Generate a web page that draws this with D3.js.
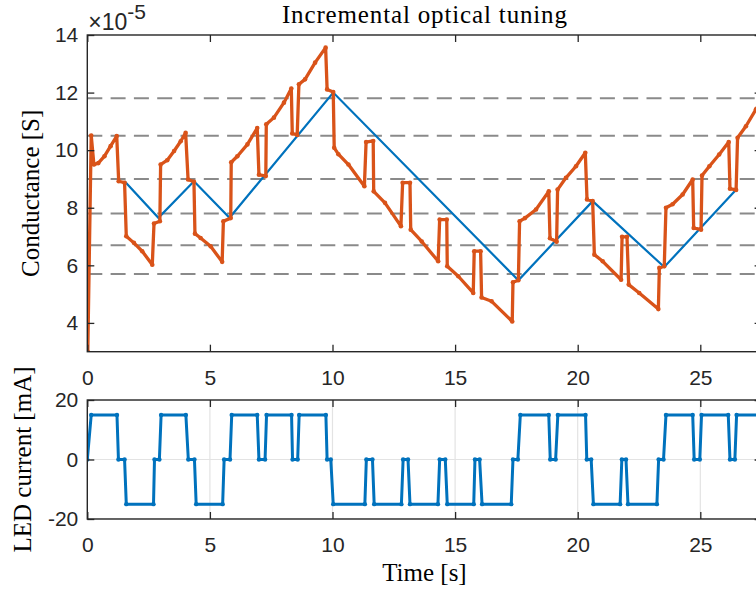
<!DOCTYPE html>
<html>
<head>
  <meta charset="UTF-8">
  <title>Incremental optical tuning</title>
  <style>
    body { margin: 0; background: #fff; }
    svg { display: block; }
    .latex { font-family: "Liberation Serif", "Times New Roman", serif; fill: #000; }
  </style>
</head>
<body>
<svg></svg>
<script src="https://d3js.org/d3.v7.min.js"></script>
<script>
    let width = 756, height = 590;

    // measured conductance, in units of 1e-5 S
    var condTime = [0.02, 0.16, 0.27, 0.45, 0.7, 0.95, 1.2, 1.28, 1.52, 1.59, 1.9, 2.24, 2.65, 2.72, 2.96,
        2.99, 3.26, 3.54, 3.81, 4.01, 4.11, 4.35, 4.39, 4.62, 5.03, 5.5, 5.55, 5.85, 5.87, 6.12, 6.53,
        6.93, 7.0, 7.28, 7.3, 7.61, 8.02, 8.32, 8.36, 8.56, 8.63, 8.88, 9.29, 9.72, 9.78, 10.03, 10.07,
        10.24, 10.65, 11.3, 11.37, 11.66, 11.68, 12.14, 12.79, 12.86, 13.16, 13.19, 13.64, 14.31, 14.37,
        14.66, 14.68, 15.13, 15.74, 15.78, 16.04, 16.08, 16.49, 17.33, 17.36, 17.58, 17.63, 17.85, 18.3,
        18.82, 18.87, 19.14, 19.18, 19.52, 19.93, 20.31, 20.38, 20.61, 20.68, 21.02, 21.77, 21.81, 22.01,
        22.08, 22.51, 23.29, 23.33, 23.53, 23.6, 23.87, 24.28, 24.69, 24.73, 25.03, 25.07, 25.37, 25.77,
        26.16, 26.21, 26.46, 26.52, 26.86, 27.27, 27.6];
    var condValue = [3.0, 10.51, 9.5, 9.55, 9.79, 10.14, 10.49, 8.92, 8.87, 7.01, 6.78, 6.49, 6.02, 7.45, 7.53,
        9.5, 9.65, 9.97, 10.31, 10.6, 8.98, 8.9, 7.1, 6.95, 6.66, 6.12, 7.53, 7.64, 9.58, 9.79, 10.2,
        10.77, 9.15, 9.1, 10.9, 11.13, 11.65, 12.14, 10.58, 10.53, 12.29, 12.46, 13.04, 13.56, 12.11, 12.02, 10.08,
        9.86, 9.5, 8.75, 10.28, 10.32, 8.57, 8.17, 7.36, 8.87, 8.87, 7.24, 6.83, 6.14, 7.59,
        7.59, 5.97, 5.62, 5.04, 6.49, 6.49, 4.88, 4.75, 4.05, 5.41, 5.48, 7.53, 7.64, 7.94,
        8.57, 6.94, 6.82, 8.63, 9.04, 9.44, 9.91, 8.29, 8.23, 6.37, 6.14, 5.5, 6.99, 6.99,
        5.33, 5.04, 4.48, 5.91, 5.97, 8.0, 8.12, 8.46, 8.98, 7.3, 7.24, 9.12, 9.44, 9.85,
        10.28, 8.66, 8.62, 10.43, 10.83, 11.42, 11.9];

    // target conductance path
    var refTime = [1.52, 2.9, 4.35, 5.8, 10.03, 17.58, 20.61, 23.53, 26.43];
    var refValue = [8.92, 7.65, 8.92, 7.65, 12.0, 5.48, 8.23, 5.94, 8.6];

    // conductance levels (dashed)
    var levels = [11.8, 10.5, 9.0, 7.8, 6.7, 5.7];

    // LED current in mA
    var ledTime = [0, 0.16, 1.21, 1.27, 1.52, 1.59, 2.7, 2.74, 2.94, 3.01, 4.02, 4.12, 4.37, 4.44, 5.52,
        5.58, 5.82, 5.89, 6.93, 7.0, 7.25, 7.31, 8.33, 8.37, 8.58, 8.64, 9.73, 9.78, 9.93, 10.03, 11.32,
        11.38, 11.63, 11.7, 12.81, 12.88, 13.08, 13.16, 14.3, 14.37, 14.6, 14.68, 15.76, 15.81, 16.0, 16.1,
        17.29, 17.36, 17.56, 17.66, 18.82, 18.88, 19.1, 19.19, 20.32, 20.37, 20.55, 20.64, 21.73, 21.8,
        21.97, 22.05, 23.23, 23.3, 23.5, 23.6, 24.69, 24.75, 24.98, 25.05, 26.14, 26.21, 26.41, 26.48, 27.6];
    var ledValue = [0, 15, 15, 0, 0, -15, -15, 0, 0, 15, 15, 0, 0, -15, -15,
        0, 0, 15, 15, 0, 0, 15, 15, 0, 0, 15, 15, 0, 0, -15, -15,
        0, 0, -15, -15, 0, 0, -15, -15, 0, 0, -15, -15, 0, 0, -15,
        -15, 0, 0, 15, 15, 0, 0, 15, 15, 0, 0, -15, -15, 0,
        0, -15, -15, 0, 0, 15, 15, 0, 0, 15, 15, 0, 0, 15, 15];

    var xTicks = [0, 5, 10, 15, 20, 25];
    var condTicks = [4, 6, 8, 10, 12, 14];
    var ledTicks = [-20, 0, 20];

    let svg = d3.select("svg")
        .attr("width", width)
        .attr("height", height)
        .attr("viewBox", "0 0 " + width + " " + height);

    let left = 87.3, right = 761.6;
    let topBox = [35, 351.7], botBox = [400, 519];

    let x = d3.scaleLinear().domain([0, 27.5]).range([left, right]);
    let yCond = d3.scaleLinear().domain([3, 14]).range([topBox[1], topBox[0]]);
    let yLed = d3.scaleLinear().domain([-20, 20]).range([botBox[1], botBox[0]]);

    let axisColor = "#262626";
    let sans = "'Liberation Sans', Arial, sans-serif";

    // clip paths for the two axes
    let defs = svg.append("defs");
    defs.append("clipPath").attr("id", "clipTop").append("rect")
        .attr("x", left).attr("y", topBox[0]).attr("width", right - left).attr("height", topBox[1] - topBox[0]);
    defs.append("clipPath").attr("id", "clipBot").append("rect")
        .attr("x", left).attr("y", botBox[0]).attr("width", right - left).attr("height", botBox[1] - botBox[0]);

    // ---- top axes ----
    let condG = svg.append("g").attr("clip-path", "url(#clipTop)");

    condG.selectAll("line.level")
        .data(levels)
        .enter().append("line")
        .attr("class", "level")
        .attr("x1", left).attr("x2", right)
        .attr("y1", d => yCond(d)).attr("y2", d => yCond(d))
        .attr("stroke", "#8a8a8a")
        .attr("stroke-width", 2)
        .attr("stroke-dasharray", "15,8.3");

    let refLine = d3.line()
        .x((d, i) => x(refTime[i]))
        .y(d => yCond(d));
    condG.append("path")
        .attr("d", refLine(refValue))
        .attr("fill", "none")
        .attr("stroke", "#0072BD")
        .attr("stroke-width", 2.2);

    let condLine = d3.line()
        .x((d, i) => x(condTime[i]))
        .y(d => yCond(d));
    condG.append("path")
        .attr("d", condLine(condValue))
        .attr("fill", "none")
        .attr("stroke", "#D95319")
        .attr("stroke-width", 3.3)
        .attr("stroke-linejoin", "round");
    condG.selectAll("circle")
        .data(condValue)
        .enter().append("circle")
        .attr("cx", (d, i) => x(condTime[i]))
        .attr("cy", d => yCond(d))
        .attr("r", 2.3)
        .attr("fill", "#D95319");

    // ---- bottom axes ----
    let ledG = svg.append("g").attr("clip-path", "url(#clipBot)");

    ledG.selectAll("line.vgrid")
        .data(xTicks)
        .enter().append("line")
        .attr("x1", d => x(d)).attr("x2", d => x(d))
        .attr("y1", botBox[0]).attr("y2", botBox[1])
        .attr("stroke", "#e3e3e3").attr("stroke-width", 1.2);
    ledG.selectAll("line.hgrid")
        .data(ledTicks)
        .enter().append("line")
        .attr("x1", left).attr("x2", right)
        .attr("y1", d => yLed(d)).attr("y2", d => yLed(d))
        .attr("stroke", "#e3e3e3").attr("stroke-width", 1.2);

    let ledLine = d3.line()
        .x((d, i) => x(ledTime[i]))
        .y(d => yLed(d));
    ledG.append("path")
        .attr("d", ledLine(ledValue))
        .attr("fill", "none")
        .attr("stroke", "#0072BD")
        .attr("stroke-width", 3)
        .attr("stroke-linejoin", "round");
    ledG.selectAll("circle")
        .data(ledValue)
        .enter().append("circle")
        .attr("cx", (d, i) => x(ledTime[i]))
        .attr("cy", d => yLed(d))
        .attr("r", 2.2)
        .attr("fill", "#0072BD");

    // ---- axes, ticks and boxes ----
    function styleAxis(g) {
        g.attr("font-size", 21).attr("font-family", sans).attr("color", axisColor);
        g.select(".domain").remove();
        g.selectAll(".tick line").attr("stroke-width", 1.3);
    }

    // plain hyphen for negative labels, like the original
    let fmt = d => String(d);

    function drawAxes(y, ticks, box) {
        svg.append("g")
            .attr("transform", "translate(0," + box[1] + ")")
            .call(d3.axisBottom(x).tickValues(xTicks).tickFormat(fmt).tickSize(-7).tickPadding(18))
            .call(styleAxis);
        svg.append("g")
            .attr("transform", "translate(0," + box[0] + ")")
            .call(d3.axisTop(x).tickValues(xTicks).tickSize(-7).tickFormat(""))
            .call(styleAxis);
        svg.append("g")
            .attr("transform", "translate(" + left + ",0)")
            .call(d3.axisLeft(y).tickValues(ticks).tickFormat(fmt).tickSize(-7).tickPadding(9))
            .call(styleAxis);
        svg.append("g")
            .attr("transform", "translate(" + right + ",0)")
            .call(d3.axisRight(y).tickValues(ticks).tickSize(-7).tickFormat(""))
            .call(styleAxis);
        svg.append("rect")
            .attr("x", left).attr("y", box[0])
            .attr("width", right - left).attr("height", box[1] - box[0])
            .attr("fill", "none")
            .attr("stroke", axisColor)
            .attr("stroke-width", 1.4);
    }

    drawAxes(yCond, condTicks, topBox);
    drawAxes(yLed, ledTicks, botBox);

    // exponent label
    let expo = svg.append("text")
        .attr("x", left + 1)
        .attr("y", 30)
        .attr("font-family", sans)
        .attr("font-size", 23)
        .attr("fill", axisColor)
        .text("\u00d710");
    expo.append("tspan")
        .attr("dy", -11)
        .attr("font-size", 21)
        .text("-5");

    // titles and labels
    let mid = (left + right) / 2;
    svg.append("text")
        .attr("class", "latex")
        .attr("x", mid)
        .attr("y", 23)
        .attr("text-anchor", "middle")
        .attr("font-size", 25)
        .attr("textLength", 285)
        .text("Incremental optical tuning");

    svg.append("text")
        .attr("class", "latex")
        .attr("x", mid)
        .attr("y", 581)
        .attr("text-anchor", "middle")
        .attr("font-size", 25)
        .text("Time [s]");

    svg.append("text")
        .attr("class", "latex")
        .attr("transform", "translate(39," + (topBox[0] + topBox[1]) / 2 + ") rotate(-90)")
        .attr("text-anchor", "middle")
        .attr("font-size", 25)
        .text("Conductance [S]");

    svg.append("text")
        .attr("class", "latex")
        .attr("transform", "translate(31," + (botBox[0] + botBox[1]) / 2 + ") rotate(-90)")
        .attr("text-anchor", "middle")
        .attr("font-size", 25)
        .text("LED current [mA]");
</script>
</body>
</html>
